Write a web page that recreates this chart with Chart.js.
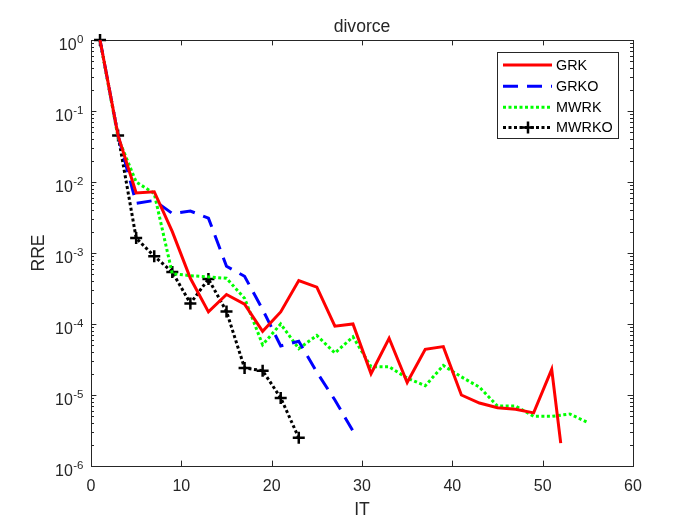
<!DOCTYPE html>
<html>
<head>
<meta charset="utf-8">
<script src="https://cdn.jsdelivr.net/npm/chart.js@4"></script>
<style>
html,body{margin:0;padding:0;background:#fff;}
#wrap{width:700px;height:525px;}
</style>
</head>
<body>
<div id="wrap"><canvas id="c" width="700" height="525"></canvas></div>
<script>
// ---- data ----
const chartTitle = "divorce";
const xLabel = "IT";
const yLabel = "RRE";
const seriesNames = ["GRK", "GRKO", "MWRK", "MWRKO"];

const itGRK  = [1,3,5,7,9,11,13,15,17,19,21,23,25,27,29,31,33,35,37,39,41,43,45,47,49,51,52];
const rreGRK = [1,0.045,7.0e-3,7.3e-3,2.0e-3,4.4e-4,1.48e-4,2.6e-4,1.9e-4,7.9e-5,1.48e-4,4.1e-4,3.3e-4,9.3e-5,1.0e-4,2.0e-5,6.3e-5,1.5e-5,4.4e-5,4.8e-5,1.0e-5,7.7e-6,6.6e-6,6.3e-6,5.6e-6,2.3e-5,2.1e-6];

const itGRKO  = [1,3,5,7,9,11,13,15,17,19,21,23,25,27,29];
const rreGRKO = [1,0.045,5.0e-3,5.5e-3,3.6e-3,3.9e-3,3.1e-3,6.5e-4,4.7e-4,1.6e-4,4.9e-5,5.7e-5,2.1e-5,8.5e-6,3.1e-6];

const itMWRK  = [1,3,5,7,9,11,13,15,17,19,21,23,25,27,29,31,33,35,37,39,41,43,45,47,49,51,53,55];
const rreMWRK = [1,0.042,1.0e-2,6.9e-3,5.1e-4,4.8e-4,4.6e-4,4.4e-4,2.3e-4,5.1e-5,1.0e-4,4.5e-5,6.9e-5,3.9e-5,6.6e-5,2.5e-5,2.5e-5,1.73e-5,1.35e-5,2.6e-5,1.8e-5,1.29e-5,7.0e-6,7.0e-6,5.0e-6,5.0e-6,5.4e-6,4.1e-6];

const itMWRKO  = [1,3,5,7,9,11,13,15,17,19,21,23];
const rreMWRKO = [1,0.045,1.62e-3,9.0e-4,5.4e-4,1.95e-4,4.3e-4,1.5e-4,2.4e-5,2.2e-5,9.1e-6,2.5e-6];

const xTicks = [0,10,20,30,40,50,60];
const yTickExps = [0,-1,-2,-3,-4,-5,-6];
const yMinorMult = [2,3,4,5,6,7,8,9];

// ---- helpers ----
function pts(xs, ys){ return xs.map((x,i)=>({x:x, y:ys[i]})); }
const AX = '#262626';
const FONT = '"Liberation Sans", Arial, Helvetica, sans-serif';

const axesPlugin = {
  id: 'matlabAxes',
  beforeDatasetsDraw(chart){
    const ctx = chart.ctx, a = chart.chartArea;
    const xs = chart.scales.x, ys = chart.scales.y;
    ctx.save();
    ctx.strokeStyle = AX; ctx.lineWidth = 1;
    // box
    ctx.strokeRect(Math.round(a.left)+0.5, Math.round(a.top)+0.5, Math.round(a.right-a.left), Math.round(a.bottom-a.top));
    const maj = 5.4, mnr = 3;
    ctx.beginPath();
    xTicks.forEach(v=>{
      const px = Math.round(xs.getPixelForValue(v))+0.5;
      ctx.moveTo(px, a.bottom); ctx.lineTo(px, a.bottom-maj);
      ctx.moveTo(px, a.top); ctx.lineTo(px, a.top+maj);
    });
    yTickExps.forEach(e=>{
      const py = Math.round(ys.getPixelForValue(Math.pow(10,e)))+0.5;
      ctx.moveTo(a.left, py); ctx.lineTo(a.left+maj, py);
      ctx.moveTo(a.right, py); ctx.lineTo(a.right-maj, py);
      if (e > yTickExps[yTickExps.length-1]) {
        yMinorMult.forEach(m=>{
          const q = Math.round(ys.getPixelForValue(m*Math.pow(10,e-1)))+0.5;
          ctx.moveTo(a.left, q); ctx.lineTo(a.left+mnr, q);
          ctx.moveTo(a.right, q); ctx.lineTo(a.right-mnr, q);
        });
      }
    });
    ctx.stroke();
    // x tick labels
    ctx.fillStyle = AX;
    ctx.font = '16px ' + FONT;
    ctx.textAlign = 'center'; ctx.textBaseline = 'alphabetic';
    xTicks.forEach(v=>{
      ctx.fillText(String(v), xs.getPixelForValue(v), a.bottom + 25);
    });
    // y tick labels 10^e
    yTickExps.forEach(e=>{
      const py = ys.getPixelForValue(Math.pow(10,e));
      const sup = e === 0 ? '0' : '-' + Math.abs(e);
      ctx.font = '11.5px ' + FONT;
      const ws = ctx.measureText(sup).width;
      ctx.font = '16px ' + FONT;
      const wb = ctx.measureText('10').width;
      const right = a.left - 7.5;
      ctx.textAlign = 'left';
      ctx.fillText('10', right - ws - wb - 0.5, py + 10);
      ctx.font = '11.5px ' + FONT;
      ctx.fillText(sup, right - ws, py + 3);
    });
    // title and axis labels
    const cx = (a.left + a.right)/2;
    ctx.textAlign = 'center';
    ctx.font = '17.6px ' + FONT;
    ctx.fillText(chartTitle, cx, a.top - 8.5);
    ctx.fillText(xLabel, cx, a.bottom + 49);
    ctx.save();
    ctx.translate(43.5, (a.top + a.bottom)/2);
    ctx.rotate(-Math.PI/2);
    ctx.fillText(yLabel, 0, 0);
    ctx.restore();
    ctx.restore();
  },
  afterDraw(chart){
    const ctx = chart.ctx;
    const bx = 497.5, by = 52.5, bw = 121, bh = 86;
    ctx.save();
    ctx.fillStyle = '#fff';
    ctx.fillRect(bx, by, bw, bh);
    ctx.strokeStyle = AX; ctx.lineWidth = 1;
    ctx.strokeRect(bx, by, bw, bh);
    const rows = [65, 86.2, 107.3, 127.5];
    chart.data.datasets.forEach((ds, i)=>{
      const y = rows[i];
      ctx.save();
      ctx.strokeStyle = ds.borderColor;
      ctx.lineWidth = ds.borderWidth;
      ctx.setLineDash(ds.borderDash || []);
      ctx.lineCap = 'butt';
      ctx.beginPath(); ctx.moveTo(503, y); ctx.lineTo(552, y); ctx.stroke();
      ctx.setLineDash([]);
      if (ds.pointStyle === 'cross') {
        const r = ds.pointRadius, cx = 528;
        ctx.lineWidth = ds.pointBorderWidth;
        ctx.beginPath();
        ctx.moveTo(cx - r, y); ctx.lineTo(cx + r, y);
        ctx.moveTo(cx, y - r); ctx.lineTo(cx, y + r);
        ctx.stroke();
      }
      ctx.restore();
      ctx.fillStyle = '#000';
      ctx.font = '14.4px ' + FONT;
      ctx.textAlign = 'left'; ctx.textBaseline = 'middle';
      ctx.fillText(ds.label, 556, y + 1);
    });
    ctx.restore();
  }
};

new Chart(document.getElementById('c'), {
  type: 'line',
  data: {
    datasets: [
      { label: seriesNames[0], data: pts(itGRK, rreGRK), borderColor: '#ff0000', borderWidth: 3, pointRadius: 0, fill: false, tension: 0 },
      { label: seriesNames[1], data: pts(itGRKO, rreGRKO), borderColor: '#0000ff', borderWidth: 3, borderDash: [15, 9], pointRadius: 0, fill: false, tension: 0 },
      { label: seriesNames[2], data: pts(itMWRK, rreMWRK), borderColor: '#00ff00', borderWidth: 3, borderDash: [3, 2.5], pointRadius: 0, fill: false, tension: 0 },
      { label: seriesNames[3], data: pts(itMWRKO, rreMWRKO), borderColor: '#000000', borderWidth: 3, borderDash: [3, 2.5],
        pointStyle: 'cross', pointRadius: 6, pointBorderWidth: 2.5, pointBorderColor: '#000000', pointBackgroundColor: '#000000', fill: false, tension: 0 }
    ]
  },
  options: {
    responsive: false,
    animation: false,
    devicePixelRatio: 1,
    layout: { padding: { left: 91, top: 40, right: 67, bottom: 59 } },
    plugins: { legend: { display: false }, title: { display: false }, tooltip: { enabled: false } },
    datasets: { line: { clip: false } },
    scales: {
      x: { type: 'linear', min: 0, max: 60, display: false },
      y: { type: 'logarithmic', min: 1e-6, max: 1, display: false }
    }
  },
  plugins: [axesPlugin]
});
</script>
</body>
</html>
